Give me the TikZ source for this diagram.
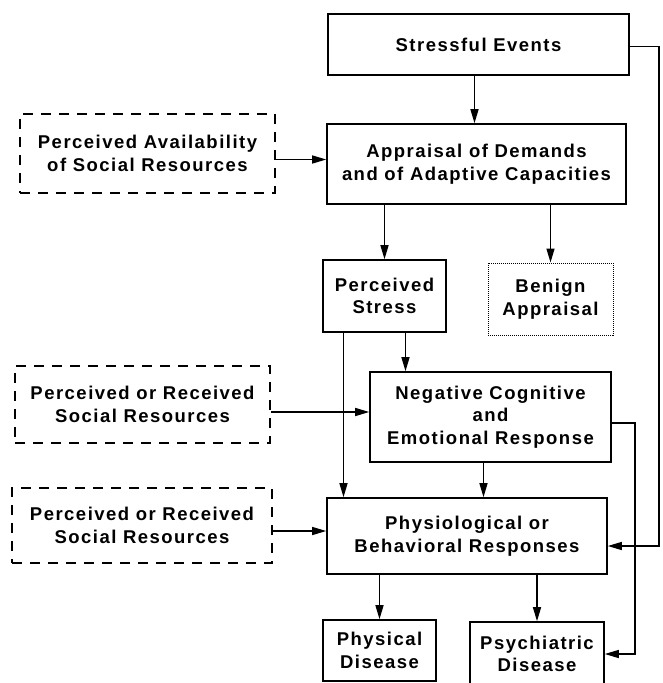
\documentclass[tikz,border=0pt]{standalone}
\usepackage{fontspec}
\newfontfamily\labfont{Liberation Sans}[LetterSpace=8]
\usetikzlibrary{arrows.meta}
\begin{document}
\begin{tikzpicture}[x=1pt,y=-1pt,
  lab/.style={align=center,inner sep=0pt,font=\labfont\bfseries\fontsize{18.5}{22.5}\selectfont},
  box/.style={lab,draw,line width=1.6pt},
  dbox/.style={lab,draw,line width=2.6pt,dash pattern=on 10pt off 8pt},
  dotbox/.style={lab,draw,line width=1pt,densely dotted},
  arr/.style={line width=1.4pt,-{Triangle[length=14pt,width=8pt]}},
  ln/.style={line width=1.4pt}]
\useasboundingbox[fill=white] (0,0) rectangle (662,683);

% boxes
\node[box,minimum width=301pt,minimum height=61pt] (SE) at (478.5,44.5) {Stressful Events};
\node[box,minimum width=299pt,minimum height=80pt] (AP) at (476.5,164) {Appraisal of Demands\\and of Adaptive Capacities};
\node[dbox,minimum width=255pt,minimum height=79pt] (PA) at (147.5,153.5) {Perceived Availability\\of Social Resources};
\node[box,minimum width=123pt,minimum height=72pt] (PS) at (384.5,296) {Perceived\\Stress};
\node[dotbox,minimum width=125pt,minimum height=72pt] (BA) at (550.5,299) {Benign\\Appraisal};
\node[box,minimum width=241pt,minimum height=90pt] (NC) at (490.5,417) {Negative Cognitive\\and\\Emotional Response};
\node[dbox,minimum width=255pt,minimum height=77pt] (PR1) at (142.5,404.5) {Perceived or Received\\Social Resources};
\node[dbox,minimum width=260pt,minimum height=75pt] (PR2) at (142,525.5) {Perceived or Received\\Social Resources};
\node[box,minimum width=280pt,minimum height=76pt] (PB) at (467,536) {Physiological or\\Behavioral Responses};
\node[box,minimum width=113pt,minimum height=61pt] (PD) at (379.5,650.5) {Physical\\Disease};
\node[box,minimum width=134pt,minimum height=64pt] (PsD) at (537,654) {Psychiatric\\Disease};

% connectors
\draw[arr] ([xshift=-4pt]SE.south) -- ([xshift=-4pt]SE.south |- AP.north);
\draw[arr] ([yshift=-6pt]PA.east) -- ([yshift=-6pt]PA.east -| AP.west);
\draw[arr] (AP.south -| PS.north) -- (PS.north);
\draw[arr] (AP.south -| BA.north) -- (BA.north);
\draw[arr] ([xshift=-41pt]PS.south) -- ([xshift=-41pt]PS.south |- PB.north);
\draw[arr] ([xshift=21pt]PS.south) -- ([xshift=21pt]PS.south |- NC.north);
\draw[arr] ([yshift=5pt]NC.west -| PR1.east) -- ([yshift=5pt]NC.west);
\draw[arr] ([xshift=-7pt]NC.south) -- ([xshift=-7pt]NC.south |- PB.north);
\draw[arr] ([yshift=5pt]PB.west -| PR2.east) -- ([yshift=5pt]PB.west);
\coordinate (r1) at ([xshift=23pt,yshift=-6pt]NC.east);
\draw[arr] ([yshift=-6pt]NC.east) -- (r1) |- (PsD.east);
\coordinate (r2) at ([xshift=29pt,yshift=-2pt]SE.east);
\draw[arr] ([yshift=-2pt]SE.east) -- (r2) |- ([yshift=-10pt]PB.east);
\draw[arr] (PB.south -| PD.north) -- (PD.north);
\draw[arr] (PB.south -| PsD.north) -- (PsD.north);
\end{tikzpicture}
\end{document}
